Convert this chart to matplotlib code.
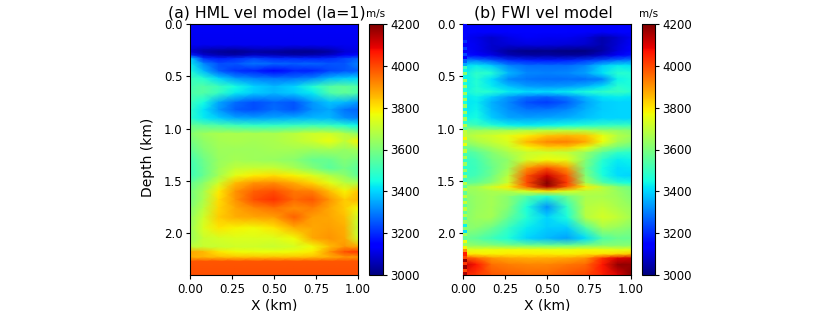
import numpy as np
import matplotlib
matplotlib.use('Agg')
import matplotlib.pyplot as plt

# Velocity values (m/s), rows go down in depth, columns go along X
x_km = [0, 0.08, 0.17, 0.27, 0.38, 0.5, 0.62, 0.73, 0.83, 0.92, 1.0]

hml_depth = [0, 0.2, 0.25, 0.27, 0.3, 0.33, 0.38, 0.45, 0.52, 0.6, 0.66, 0.75, 0.82, 0.9, 0.97,
             1.05, 1.12, 1.2, 1.3, 1.38, 1.45, 1.52, 1.6, 1.68, 1.76, 1.85, 1.95, 2.05, 2.13,
             2.18, 2.23, 2.27, 2.4]
hml_vel = [
    [3130, 3130, 3130, 3130, 3130, 3130, 3130, 3130, 3130, 3130, 3130],
    [3120, 3120, 3120, 3120, 3120, 3120, 3120, 3120, 3120, 3120, 3120],
    [3090, 3060, 3050, 3040, 3060, 3060, 3040, 3040, 3060, 3100, 3110],
    [3100, 3050, 3030, 3020, 3040, 3030, 3020, 3020, 3040, 3090, 3110],
    [3200, 3090, 3060, 3050, 3080, 3070, 3050, 3060, 3080, 3130, 3160],
    [3400, 3210, 3180, 3200, 3230, 3200, 3200, 3190, 3200, 3230, 3260],
    [3430, 3310, 3240, 3250, 3290, 3270, 3260, 3270, 3250, 3250, 3300],
    [3460, 3370, 3260, 3210, 3190, 3150, 3190, 3190, 3230, 3250, 3260],
    [3510, 3470, 3400, 3330, 3300, 3290, 3290, 3310, 3370, 3390, 3400],
    [3520, 3540, 3510, 3450, 3400, 3370, 3400, 3470, 3540, 3560, 3530],
    [3530, 3540, 3500, 3430, 3390, 3370, 3390, 3430, 3530, 3560, 3530],
    [3510, 3450, 3350, 3280, 3240, 3270, 3250, 3330, 3380, 3370, 3330],
    [3490, 3420, 3330, 3260, 3240, 3280, 3250, 3320, 3350, 3290, 3270],
    [3480, 3430, 3390, 3350, 3340, 3350, 3360, 3370, 3370, 3320, 3300],
    [3570, 3550, 3530, 3510, 3490, 3490, 3500, 3510, 3500, 3470, 3440],
    [3610, 3650, 3670, 3670, 3670, 3670, 3690, 3720, 3720, 3680, 3630],
    [3590, 3630, 3660, 3670, 3660, 3670, 3690, 3720, 3760, 3700, 3780],
    [3560, 3610, 3650, 3650, 3650, 3660, 3660, 3650, 3660, 3640, 3660],
    [3520, 3580, 3640, 3660, 3650, 3640, 3620, 3570, 3570, 3610, 3590],
    [3510, 3570, 3650, 3700, 3710, 3710, 3670, 3610, 3550, 3590, 3550],
    [3510, 3570, 3660, 3750, 3790, 3810, 3780, 3740, 3680, 3630, 3560],
    [3560, 3620, 3720, 3850, 3900, 3910, 3870, 3820, 3750, 3690, 3670],
    [3590, 3660, 3790, 3900, 3970, 3990, 3940, 3930, 3850, 3780, 3840],
    [3590, 3670, 3810, 3900, 3990, 4030, 3960, 3980, 3900, 3830, 3860],
    [3610, 3690, 3820, 3880, 3920, 3950, 3910, 3930, 3880, 3830, 3770],
    [3630, 3720, 3830, 3870, 3880, 3890, 3970, 3890, 3880, 3850, 3720],
    [3640, 3740, 3800, 3780, 3770, 3800, 3870, 3880, 3890, 3870, 3700],
    [3640, 3710, 3730, 3740, 3740, 3740, 3770, 3880, 3900, 3880, 3720],
    [3690, 3710, 3710, 3720, 3720, 3710, 3730, 3770, 3850, 3900, 3880],
    [3880, 3860, 3800, 3770, 3760, 3760, 3770, 3790, 3900, 3990, 4020],
    [3870, 3860, 3850, 3840, 3840, 3840, 3840, 3850, 3870, 3900, 3900],
    [3980, 3980, 3980, 3980, 3980, 3980, 3980, 3980, 3980, 3980, 3980],
    [3990, 3990, 3990, 3990, 3990, 3990, 3990, 3990, 3990, 3990, 3990],
]

fwi_depth = [0, 0.08, 0.13, 0.2, 0.26, 0.3, 0.35, 0.4, 0.47, 0.53, 0.6, 0.65, 0.7, 0.75, 0.82,
             0.9, 0.97, 1.02, 1.07, 1.13, 1.18, 1.23, 1.3, 1.38, 1.45, 1.52, 1.56, 1.6, 1.65,
             1.75, 1.85, 1.95, 2.05, 2.12, 2.16, 2.2, 2.24, 2.3, 2.4]
fwi_vel = [
    [3150, 3150, 3150, 3150, 3150, 3150, 3150, 3150, 3150, 3150, 3150],
    [3150, 3150, 3140, 3150, 3150, 3150, 3150, 3140, 3130, 3150, 3150],
    [3130, 3110, 3080, 3110, 3130, 3120, 3120, 3100, 3050, 3080, 3120],
    [3140, 3120, 3080, 3090, 3100, 3100, 3090, 3080, 3050, 3090, 3130],
    [3160, 3120, 3080, 3030, 3010, 3010, 3000, 3000, 3040, 3100, 3150],
    [3170, 3150, 3110, 3060, 3040, 3040, 3030, 3040, 3080, 3130, 3170],
    [3300, 3300, 3260, 3210, 3190, 3180, 3190, 3220, 3250, 3290, 3300],
    [3400, 3430, 3390, 3310, 3280, 3280, 3280, 3310, 3390, 3430, 3420],
    [3430, 3490, 3470, 3370, 3310, 3300, 3310, 3340, 3420, 3480, 3470],
    [3430, 3470, 3410, 3310, 3290, 3280, 3280, 3280, 3300, 3440, 3460],
    [3430, 3470, 3430, 3380, 3340, 3330, 3340, 3370, 3420, 3480, 3460],
    [3440, 3480, 3470, 3430, 3410, 3410, 3430, 3460, 3490, 3500, 3480],
    [3420, 3440, 3390, 3330, 3290, 3270, 3300, 3370, 3420, 3430, 3420],
    [3420, 3430, 3360, 3310, 3240, 3220, 3260, 3340, 3390, 3400, 3400],
    [3420, 3440, 3370, 3320, 3290, 3290, 3310, 3360, 3390, 3400, 3400],
    [3440, 3450, 3390, 3350, 3340, 3350, 3360, 3380, 3400, 3400, 3400],
    [3530, 3510, 3470, 3440, 3430, 3440, 3450, 3470, 3490, 3500, 3500],
    [3640, 3650, 3660, 3670, 3680, 3690, 3690, 3680, 3650, 3640, 3620],
    [3670, 3700, 3720, 3750, 3790, 3840, 3860, 3840, 3760, 3680, 3650],
    [3630, 3670, 3700, 3740, 3860, 3920, 3930, 3880, 3760, 3660, 3620],
    [3570, 3610, 3660, 3710, 3780, 3830, 3830, 3760, 3650, 3590, 3560],
    [3520, 3550, 3610, 3670, 3710, 3720, 3700, 3640, 3550, 3490, 3480],
    [3490, 3520, 3590, 3630, 3730, 3770, 3750, 3610, 3480, 3430, 3440],
    [3490, 3510, 3570, 3650, 3900, 3990, 3900, 3590, 3450, 3410, 3420],
    [3500, 3520, 3580, 3690, 3980, 4120, 3980, 3610, 3460, 3410, 3400],
    [3550, 3570, 3620, 3720, 4000, 4200, 4020, 3660, 3540, 3480, 3450],
    [3640, 3660, 3730, 3790, 3960, 4150, 3970, 3790, 3690, 3620, 3580],
    [3640, 3650, 3670, 3680, 3740, 3810, 3740, 3690, 3680, 3640, 3600],
    [3610, 3640, 3660, 3620, 3540, 3470, 3580, 3670, 3670, 3650, 3610],
    [3600, 3640, 3660, 3610, 3460, 3320, 3490, 3680, 3700, 3670, 3640],
    [3610, 3650, 3660, 3570, 3470, 3400, 3460, 3680, 3730, 3700, 3660],
    [3620, 3620, 3580, 3500, 3430, 3390, 3390, 3530, 3660, 3640, 3610],
    [3580, 3550, 3510, 3460, 3400, 3370, 3340, 3410, 3530, 3570, 3570],
    [3640, 3630, 3620, 3600, 3590, 3580, 3580, 3600, 3620, 3620, 3620],
    [3740, 3750, 3760, 3770, 3770, 3760, 3760, 3770, 3760, 3750, 3750],
    [3800, 3790, 3780, 3790, 3790, 3790, 3780, 3800, 3800, 3820, 3840],
    [4000, 3960, 3900, 3880, 3870, 3870, 3880, 3900, 4030, 4100, 4120],
    [4130, 4060, 3950, 3930, 3920, 3920, 3940, 3960, 4060, 4180, 4180],
    [4050, 4020, 3980, 3970, 3960, 3960, 3980, 4000, 4050, 4100, 4190],
]

# Speckled strip down the left edge of the FWI panel
fwi_edge_vel = [3150, 3150, 3150, 3150, 3130, 3210, 3130, 3220, 3130, 3230, 3150, 3260,
                3350, 3510, 3440, 3620, 3440, 3650, 3450, 3640, 3460, 3660, 3470, 3650,
                3450, 3640, 3440, 3650, 3460, 3660, 3480, 3680, 3560, 3700, 3700, 3780,
                3660, 3760, 3580, 3700, 3520, 3670, 3490, 3650, 3480, 3640, 3480, 3660,
                3500, 3680, 3560, 3700, 3560, 3700, 3570, 3710, 3550, 3700, 3560, 3680,
                3540, 3650, 3440, 3620, 3420, 3660, 3560, 3760, 3640, 3780, 3900, 4050,
                4000, 4180, 4020, 4180, 4000, 4150]

vmin = 3000
vmax = 4200
x_ticks = [0, 0.25, 0.5, 0.75, 1.0]
y_ticks = [0, 0.5, 1.0, 1.5, 2.0]
cbar_ticks = [3000, 3200, 3400, 3600, 3800, 4000, 4200]

fig = plt.figure(figsize=(8.3, 3.11), dpi=100)

W = 830.0
H = 311.0


def panel(x0, cx0, cw, depth, data, title, title_x):
    ax = fig.add_axes([x0 / W, 1 - 275 / H, 168 / W, 251 / H])
    im = ax.pcolormesh(x_km, depth, np.array(data), cmap='jet', vmin=vmin, vmax=vmax,
                       shading='gouraud', rasterized=True)
    ax.set_xlim(0, 1)
    ax.set_ylim(2.4, 0)
    ax.set_xticks(x_ticks)
    ax.set_xticklabels(['%.2f' % t for t in x_ticks])
    ax.set_yticks(y_ticks)
    ax.set_xlabel('X (km)', fontsize=10, labelpad=2)
    ax.set_title(title, fontsize=11.3, pad=4.5, x=title_x)
    ax.tick_params(labelsize=8.5, length=3, pad=2.5, width=0.8)

    cax = fig.add_axes([cx0 / W, 1 - 275 / H, cw / W, 251 / H])
    cbar = fig.colorbar(im, cax=cax)
    cbar.set_ticks(cbar_ticks)
    cbar.ax.tick_params(labelsize=8.5, length=3, pad=2.5, width=0.8)
    cbar.ax.text(0.5, 1.02, 'm/s', transform=cbar.ax.transAxes, ha='center', va='bottom', fontsize=7.5)
    return ax


ax1 = panel(190, 369, 14, hml_depth, hml_vel, '(a) HML vel model (la=1)', 0.455)
ax1.set_ylabel('Depth (km)', fontsize=10, labelpad=6, y=0.47)

ax2 = panel(463, 642, 13, fwi_depth, fwi_vel, '(b) FWI vel model', 0.48)
ax2.imshow(np.array(fwi_edge_vel).reshape(-1, 1), cmap='jet', vmin=vmin, vmax=vmax, aspect='auto',
           extent=[0, 0.02, 2.4, 0], interpolation='nearest', zorder=3)
ax2.set_xlim(0, 1)
ax2.set_ylim(2.4, 0)

fig.savefig('out.png', dpi=100)
